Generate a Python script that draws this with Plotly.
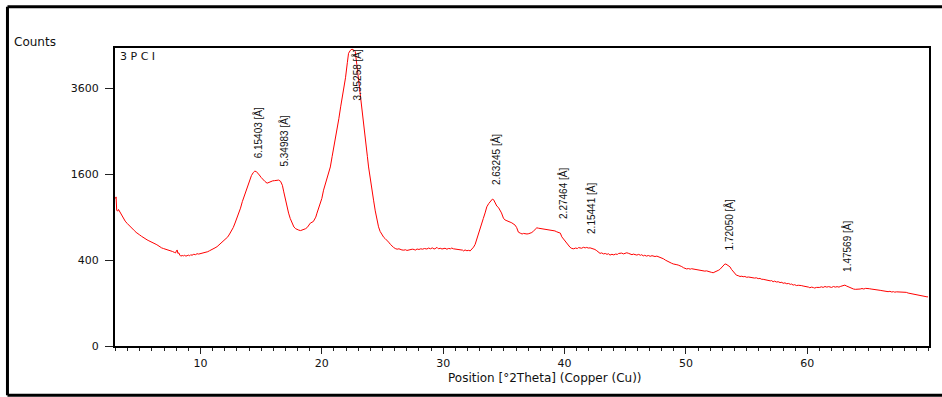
import math
import numpy as np
import plotly.graph_objects as go

# Diffraction scan: position (deg 2Theta) and intensity (counts)
two_theta = [
    3.00, 3.05, 3.10, 3.18, 3.25, 3.35, 3.50, 3.65, 3.80, 3.96, 4.10, 4.25, 4.40, 4.55, 4.70, 4.85,
    5.00, 5.15, 5.30, 5.45, 5.60, 5.75, 5.90, 6.05, 6.20, 6.35, 6.50, 6.65, 6.80, 6.95, 7.10, 7.25,
    7.40, 7.55, 7.70, 7.85, 7.95, 8.02, 8.08, 8.14, 8.22, 8.30, 8.38, 8.50, 8.60, 8.70, 8.80, 8.90,
    9.00, 9.10, 9.20, 9.30, 9.45, 9.60, 9.72, 9.85, 10.00, 10.15, 10.30, 10.45, 10.60, 10.75, 10.90,
    11.05, 11.20, 11.37, 11.50, 11.65, 11.80, 11.97, 12.10, 12.25, 12.40, 12.55, 12.70, 12.85, 13.00,
    13.15, 13.30, 13.45, 13.60, 13.75, 13.90, 14.05, 14.20, 14.35, 14.47, 14.60, 14.72, 14.85, 15.00,
    15.15, 15.30, 15.49, 15.65, 15.80, 15.95, 16.10, 16.25, 16.44, 16.60, 16.75, 16.85, 17.00, 17.15,
    17.26, 17.40, 17.55, 17.70, 17.85, 17.95, 18.10, 18.25, 18.37, 18.50, 18.65, 18.80, 18.95, 19.05,
    19.30, 19.50, 19.60, 19.75, 19.87, 20.00, 20.14, 20.30, 20.45, 20.60, 20.70, 20.85, 21.00, 21.15,
    21.25, 21.40, 21.55, 21.70, 21.79, 21.95, 22.10, 22.20, 22.35, 22.48, 22.60, 22.75, 22.88, 23.02,
    23.15, 23.30, 23.44, 23.60, 23.75, 23.85, 24.00, 24.15, 24.26, 24.40, 24.55, 24.67, 24.80, 24.95,
    25.10, 25.22, 25.36, 25.50, 25.65, 25.77, 25.90, 26.05, 26.20, 26.35, 26.46, 26.60, 26.75, 26.90,
    27.01, 27.15, 27.30, 27.45, 27.60, 27.69, 27.85, 28.00, 28.15, 28.30, 28.45, 28.65, 28.80, 28.95,
    29.10, 29.25, 29.40, 29.48, 29.60, 29.75, 29.90, 30.02, 30.15, 30.30, 30.45, 30.60, 30.70, 30.84,
    31.00, 31.15, 31.30, 31.45, 31.60, 31.67, 31.80, 31.95, 32.10, 32.22, 32.35, 32.50, 32.63, 32.80,
    32.95, 33.05, 33.18, 33.30, 33.45, 33.59, 33.75, 33.90, 34.05, 34.15, 34.30, 34.42, 34.55, 34.69,
    34.80, 34.96, 35.10, 35.25, 35.40, 35.51, 35.65, 35.80, 35.92, 36.05, 36.19, 36.35, 36.50, 36.61,
    36.75, 36.90, 37.05, 37.16, 37.30, 37.45, 37.60, 37.71, 37.85, 38.00, 38.10, 38.25, 38.40, 38.55,
    38.70, 38.80, 38.95, 39.10, 39.20, 39.35, 39.50, 39.65, 39.77, 39.90, 40.05, 40.18, 40.30, 40.45,
    40.59, 40.75, 40.90, 41.05, 41.15, 41.27, 41.40, 41.55, 41.70, 41.82, 41.95, 42.10, 42.25, 42.37,
    42.50, 42.65, 42.80, 42.92, 43.05, 43.20, 43.35, 43.50, 43.60, 43.74, 43.90, 44.05, 44.20, 44.35,
    44.45, 44.56, 44.70, 44.85, 45.00, 45.12, 45.25, 45.40, 45.55, 45.66, 45.80, 45.95, 46.10, 46.25,
    46.35, 46.48, 46.60, 46.75, 46.90, 47.05, 47.20, 47.30, 47.45, 47.60, 47.75, 47.85, 47.99, 48.15,
    48.30, 48.45, 48.55, 48.68, 48.80, 48.95, 49.10, 49.25, 49.36, 49.50, 49.65, 49.80, 49.91, 50.05,
    50.20, 50.35, 50.45, 50.60, 50.75, 50.90, 51.05, 51.20, 51.30, 51.42, 51.55, 51.70, 51.85, 52.00,
    52.10, 52.24, 52.40, 52.55, 52.70, 52.79, 52.90, 53.00, 53.10, 53.20, 53.29, 53.40, 53.50, 53.62,
    53.75, 53.90, 54.03, 54.15, 54.30, 54.45, 54.60, 54.71, 54.85, 55.00, 55.15, 55.30, 55.40, 55.53,
    55.65, 55.80, 55.95, 56.10, 56.20, 56.36, 56.50, 56.65, 56.80, 56.95, 57.05, 57.18, 57.30, 57.45,
    57.60, 57.75, 57.90, 58.00, 58.15, 58.30, 58.45, 58.60, 58.70, 58.83, 58.95, 59.10, 59.25, 59.40,
    59.50, 59.65, 59.80, 59.95, 60.10, 60.20, 60.35, 60.50, 60.60, 60.75, 60.90, 61.02, 61.15, 61.30,
    61.45, 61.60, 61.75, 61.85, 62.00, 62.15, 62.30, 62.45, 62.60, 62.75, 62.90, 63.00, 63.09, 63.20,
    63.35, 63.50, 63.65, 63.80, 63.95, 64.05, 64.20, 64.35, 64.50, 64.65, 64.80, 64.87, 65.00, 65.10,
    65.25, 65.40, 65.55, 65.69, 65.85, 66.00, 66.15, 66.30, 66.45, 66.51, 66.65, 66.80, 66.95, 67.10,
    67.20, 67.34, 67.50, 67.65, 67.80, 67.88, 68.00, 68.15, 68.30, 68.43, 68.55, 68.70, 68.85, 69.00,
    69.15, 69.26, 69.40, 69.55, 69.70, 69.85, 69.94,
]

counts = [
    1180, 1205, 1000, 985, 1010, 975, 930, 885, 845, 815, 795, 768, 745, 722, 700, 688,
    668, 652, 636, 625, 611, 600, 592, 580, 572, 560, 548, 532, 522, 515, 510, 500,
    496, 488, 484, 475, 470, 490, 500, 465, 470, 448, 438, 444, 440, 446, 438, 442,
    448, 440, 452, 446, 456, 452, 462, 458, 462, 468, 472, 478, 482, 492, 500,
    512, 522, 535, 550, 566, 588, 608, 622, 645, 680, 715, 760, 820, 885,
    940, 1030, 1130, 1210, 1300, 1410, 1500, 1575, 1630, 1656, 1650, 1625, 1585, 1540,
    1500, 1470, 1437, 1455, 1470, 1478, 1482, 1490, 1492, 1470, 1400, 1300, 1150, 1020,
    957, 880, 810, 768, 745, 735, 728, 722, 726, 734, 745, 762, 790, 818,
    840, 900, 957, 1040, 1101, 1180, 1316, 1420, 1540, 1660, 1738, 1950, 2150, 2380,
    2523, 2800, 3100, 3380, 3544, 3900, 4350, 4643, 4740, 4775, 4760, 4700, 4300, 3827,
    3450, 3050, 2689, 2270, 1950, 1738, 1480, 1280, 1153, 990, 860, 770, 712, 670,
    640, 625, 608, 585, 560, 540, 528, 515, 508, 512, 505, 500, 498, 502,
    495, 500, 498, 508, 505, 498, 510, 505, 512, 508, 515, 510, 520, 512,
    522, 510, 518, 528, 512, 518, 510, 515, 518, 508, 516, 512, 520, 512,
    510, 502, 508, 502, 498, 490, 500, 492, 496, 490, 505, 530, 560, 640,
    720, 760, 814, 880, 960, 1050, 1100, 1140, 1169, 1160, 1100, 1060, 1040, 1000,
    960, 886, 860, 850, 845, 832, 822, 808, 792, 760, 703, 690, 680, 687,
    682, 680, 684, 687, 698, 718, 738, 757, 752, 748, 754, 749, 740, 742,
    732, 728, 725, 720, 718, 707, 700, 690, 646, 620, 600, 570, 550, 528,
    516, 512, 520, 515, 525, 523, 518, 528, 522, 527, 520, 522, 514, 516,
    505, 492, 478, 465, 470, 460, 464, 455, 462, 448, 456, 450, 458, 455,
    464, 465, 468, 460, 470, 471, 466, 460, 452, 458, 450, 448, 455, 446,
    452, 440, 446, 438, 444, 436, 442, 438, 434, 438, 430, 428, 425, 412,
    400, 390, 382, 375, 372, 365, 364, 358, 355, 350, 342, 332, 326, 322,
    325, 320, 324, 321, 318, 314, 316, 310, 312, 307, 304, 306, 300, 298,
    294, 291, 296, 304, 312, 318, 330, 342, 352, 364, 364, 355, 348, 340,
    318, 298, 280, 272, 268, 262, 264, 260, 262, 256, 258, 254, 256, 252,
    250, 252, 246, 248, 242, 241, 238, 236, 234, 230, 232, 224, 228, 222,
    224, 218, 220, 213, 216, 210, 212, 206, 208, 201, 204, 198, 200, 196,
    198, 195, 192, 194, 188, 184, 188, 185, 182, 186, 184, 186, 190, 186,
    192, 188, 191, 190, 186, 192, 188, 191, 188, 193, 198, 200, 201, 196,
    190, 184, 180, 176, 174, 174, 178, 176, 179, 176, 180, 180, 182, 178,
    176, 175, 174, 174, 170, 168, 166, 163, 160, 159, 160, 162, 158, 160,
    157, 159, 158, 160, 156, 159, 155, 156, 152, 150, 148, 146, 142, 140,
    138, 137, 135, 134, 132, 131, 131,
]

# Identified reflections (d-spacings in Angstrom)
d_spacings = [6.15403, 5.34983, 3.95258, 2.63245, 2.27464, 2.15441, 1.72050, 1.47569]
d_labels = ["6.15403", "5.34983", "3.95258", "2.63245", "2.27464", "2.15441", "1.72050", "1.47569"]

y_tick_counts = [0, 400, 1600, 3600]
x_tick_vals = [10, 20, 30, 40, 50, 60]

WAVELENGTH = 1.5406  # Cu K-alpha1
Y_MAX = 69.38        # sqrt(counts) at top of the plotting area

tt = np.array(two_theta)
sq = np.sqrt(np.array(counts, dtype=float))

fig = go.Figure()
fig.add_trace(go.Scatter(
    x=tt, y=sq, mode="lines",
    line=dict(color="#ff0000", width=1),
    hoverinfo="skip", showlegend=False,
))

axis_font = dict(family="DejaVu Sans", size=11, color="#111111")
title_font = dict(family="DejaVu Sans", size=12, color="#111111")
label_font = dict(family="Liberation Sans, Arial", size=10, color="#111111")

annotations = []
for d, txt in zip(d_spacings, d_labels):
    pos = 2 * math.degrees(math.asin(WAVELENGTH / (2 * d)))
    ypk = float(np.interp(pos, tt, sq))
    if ypk > 0.8 * Y_MAX:
        annotations.append(dict(
            x=pos, y=1, xref="x", yref="paper", text=f"{txt} [Å]", textangle=-90,
            showarrow=False, xanchor="center", yanchor="top", xshift=5, yshift=1,
            font=label_font,
        ))
    else:
        annotations.append(dict(
            x=pos, y=ypk, xref="x", yref="y", text=f"{txt} [Å]", textangle=-90,
            showarrow=False, xanchor="center", yanchor="bottom", xshift=4, yshift=12,
            font=label_font,
        ))

annotations += [
    dict(x=0, y=1, xref="paper", yref="paper", text="3 P C I", showarrow=False,
         xanchor="left", yanchor="top", xshift=3, yshift=0,
         font=dict(family="DejaVu Sans", size=11, color="#111111")),
    dict(x=-0.126, y=1.02, xref="paper", yref="paper", text="Counts", showarrow=False,
         xanchor="left", yanchor="middle", font=title_font),
    dict(x=0.528, y=-0.107, xref="paper", yref="paper",
         text="Position [°2Theta] (Copper (Cu))", showarrow=False,
         xanchor="center", yanchor="middle", font=title_font),
]

# Outer frame: top, left and bottom edges, running to the right edge of the page
frame = dict(type="line", xref="paper", yref="paper",
             line=dict(color="black", width=3), layer="above")
X_L, X_R, Y_B, Y_T = -0.1321, 1.016, -0.1656, 1.1388
shapes = [
    dict(frame, x0=X_L, x1=X_R, y0=Y_T, y1=Y_T),
    dict(frame, x0=X_L, x1=X_R, y0=Y_B, y1=Y_B),
    dict(frame, x0=X_L, x1=X_L, y0=Y_B, y1=Y_T),
]

fig.update_layout(
    width=942, height=397,
    margin=dict(l=115, r=13, t=48, b=51),
    paper_bgcolor="white", plot_bgcolor="white",
    annotations=annotations,
    shapes=shapes,
)

fig.update_xaxes(
    range=[2.96, 70.02], tickvals=x_tick_vals, ticks="outside", ticklen=6,
    tickwidth=1, tickcolor="#222222", tickfont=axis_font,
    minor=dict(dtick=1, tick0=0, ticks="outside", ticklen=3, tickcolor="#222222", tickwidth=1),
    showline=True, linecolor="black", linewidth=2, mirror=True,
    showgrid=False, zeroline=False,
)
fig.update_yaxes(
    range=[0, Y_MAX], tickvals=[math.sqrt(v) for v in y_tick_counts],
    ticktext=[str(v) for v in y_tick_counts],
    ticks="outside", ticklen=8, tickwidth=1, tickcolor="#222222", tickfont=axis_font,
    ticklabelstandoff=4,
    showline=True, linecolor="black", linewidth=2, mirror=True,
    showgrid=False, zeroline=False,
)

fig.write_html("out.html")
